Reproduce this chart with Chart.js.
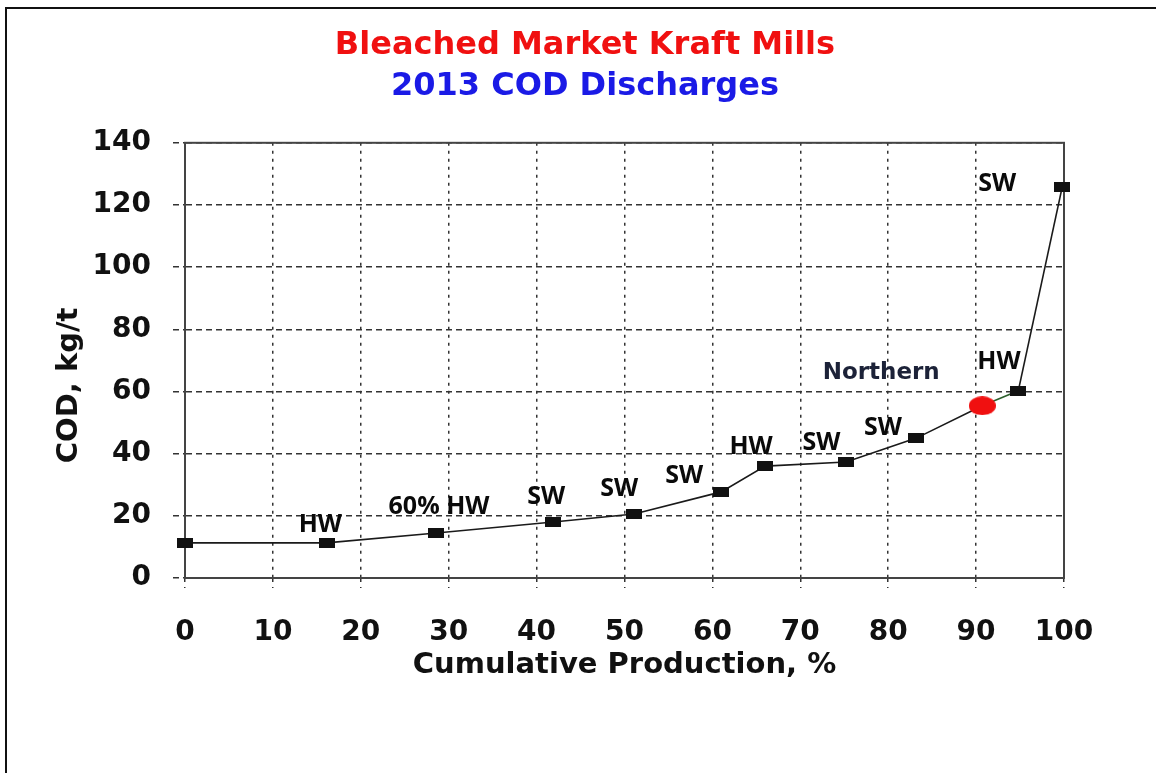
<!DOCTYPE html>
<html>
<head>
<meta charset="utf-8">
<script src="https://cdn.jsdelivr.net/npm/chart.js@4.4.1/dist/chart.umd.min.js"></script>
<style>
  html, body { margin: 0; padding: 0; background: #fff; overflow: hidden; }
  #wrap { position: relative; width: 1156px; height: 773px; }
  #frame { position: absolute; left: 5px; top: 7px; right: -10px; bottom: -10px;
           border-left: 2px solid #111; border-top: 2px solid #111; pointer-events: none; }
</style>
</head>
<body>
<div id="wrap">
  <canvas id="chart"></canvas>
  <div id="frame"></div>
</div>
<script>
// --- DATA ---
const titleText = 'Bleached Market Kraft Mills';
const subtitleText = '2013 COD Discharges';
const xTitle = 'Cumulative Production, %';
const yTitle = 'COD, kg/t';

const cumProd = [0, 16.1, 28.6, 41.9, 51.1, 61.0, 66.0, 75.2, 83.2, 90.7, 94.8, 99.8];
const codKgT  = [11.3, 11.3, 14.5, 18.0, 20.6, 27.7, 36.0, 37.3, 45.0, 55.4, 60.2, 125.8];
const highlightIdx = 9; // Northern

const xTicks = [0, 10, 20, 30, 40, 50, 60, 70, 80, 90, 100];
const yTicks = [0, 20, 40, 60, 80, 100, 120, 140];

// annotation text and where it sits (in chart units)
const noteText = ['HW', '60% HW', 'SW', 'SW', 'SW', 'HW', 'SW', 'SW', 'Northern', 'HW', 'SW'];
const noteX    = [15.4, 28.9, 41.1, 49.4, 56.8, 64.4, 72.4, 79.4, 79.2, 92.6, 92.4];
const noteY    = [17.1, 22.9, 26.1, 28.6, 32.8, 42.2, 43.5, 48.3, 66.0, 69.5, 126.8];

// --- MARKERS ---
function makeMarker(w, h, color, round) {
    const c = document.createElement('canvas');
    c.width = w; c.height = h;
    const g = c.getContext('2d');
    g.fillStyle = color;
    if (round) { g.beginPath(); g.ellipse(w / 2, h / 2, w / 2, h / 2, 0, 0, Math.PI * 2); g.fill(); }
    else g.fillRect(0, 0, w, h);
    return c;
}
const squareMark = makeMarker(16, 10, '#111', false);
const redMark = makeMarker(27, 19, '#f01010', true);

const bold = (family, size) => ({ family: family, size: size, weight: 'bold', lineHeight: 1.2 });

// --- PLUGINS ---
const plotFrame = {
    id: 'plotFrame',
    beforeDatasetsDraw(chart) {
        const { ctx, chartArea: a } = chart;
        ctx.save();
        ctx.strokeStyle = '#444';
        ctx.lineWidth = 2;
        ctx.strokeRect(a.left, a.top, a.right - a.left, a.bottom - a.top);
        ctx.restore();
    },
    afterDraw(chart) {
        const { ctx, chartArea: a, scales } = chart;
        // y axis title, sits a bit below the middle in the original
        ctx.save();
        ctx.font = 'bold 29px "DejaVu Sans"';
        ctx.fillStyle = '#111';
        ctx.textAlign = 'center';
        ctx.textBaseline = 'middle';
        ctx.translate(69, (a.top + a.bottom) / 2 + 25);
        ctx.rotate(-Math.PI / 2);
        ctx.fillText(yTitle, 0, 0);
        ctx.restore();

        // point notes
        ctx.save();
        ctx.textAlign = 'center';
        ctx.textBaseline = 'middle';
        noteText.forEach((t, i) => {
            if (t === 'Northern') { ctx.font = 'bold 23px "DejaVu Sans"'; ctx.fillStyle = '#1c2238'; }
            else { ctx.font = 'bold 25px "Open Sans"'; ctx.fillStyle = '#0a0a0a'; }
            ctx.fillText(t, scales.x.getPixelForValue(noteX[i]), scales.y.getPixelForValue(noteY[i]));
        });
        ctx.restore();
    }
};

// --- CHART ---
new Chart(document.getElementById('chart'), {
    type: 'line',
    data: {
        datasets: [{
            data: cumProd.map((x, i) => ({ x: x, y: codKgT[i] })),
            borderColor: '#1a1a1a',
            borderWidth: 1.6,
            tension: 0,
            clip: false,
            pointStyle: cumProd.map((_, i) => i === highlightIdx ? redMark : squareMark),
            pointRadius: 6,
            segment: { borderColor: s => s.p0DataIndex === highlightIdx ? '#2b5e2b' : '#1a1a1a' }
        }]
    },
    options: {
        responsive: true,
        maintainAspectRatio: false,
        animation: false,
        layout: { padding: { left: 14, right: 0, top: 0, bottom: 0 } },
        plugins: {
            legend: { display: false },
            tooltip: { enabled: false },
            title: {
                display: true, text: titleText, color: '#f01010',
                font: bold('DejaVu Sans', 32), padding: { top: 26, bottom: 0 }
            },
            subtitle: {
                display: true, text: subtitleText, color: '#1a1ae6',
                font: bold('DejaVu Sans', 32), padding: { top: 3, bottom: 37 }
            }
        },
        scales: {
            x: {
                type: 'linear', min: 0, max: 100,
                afterBuildTicks: s => { s.ticks = xTicks.map(v => ({ value: v })); },
                afterFit: s => { s.height = 195; },
                ticks: { color: '#111', font: bold('DejaVu Sans', 28), padding: 28, maxRotation: 0 },
                grid: { color: '#333', lineWidth: 1.5, tickLength: 10, tickColor: '#333', tickWidth: 1.5, tickBorderDash: [3, 5] },
                border: { display: true, color: '#444', width: 2, dash: [3, 5] },
                title: { display: true, text: xTitle, color: '#111', font: bold('DejaVu Sans', 29), padding: { top: 0, bottom: 90 } }
            },
            y: {
                min: 0, max: 140,
                afterBuildTicks: s => { s.ticks = yTicks.map(v => ({ value: v })); },
                afterFit: s => { s.width = 171; },
                ticks: { color: '#111', font: bold('DejaVu Sans', 28), padding: 22 },
                grid: { color: '#333', lineWidth: 1.5, tickLength: 12, tickColor: '#333', tickWidth: 1.5, tickBorderDash: [6, 4] },
                border: { display: true, color: '#444', width: 2, dash: [6, 4] }
            },
            // empty right-hand space so the title centres like the original
            yRight: {
                position: 'right', min: 0, max: 140,
                afterFit: s => { s.width = 92; },
                ticks: { display: false },
                grid: { display: false, drawOnChartArea: false },
                border: { display: false }
            }
        }
    },
    plugins: [plotFrame]
});
</script>
</body>
</html>
